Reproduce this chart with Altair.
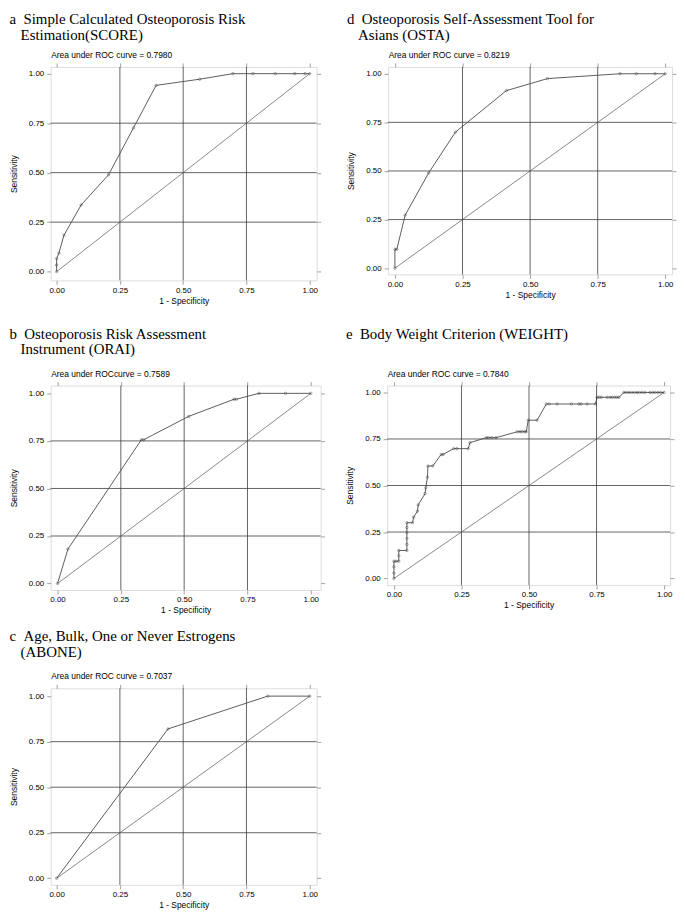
import altair as alt
import pandas as pd

# ---------------- data ----------------
TICKS = [0, 0.25, 0.5, 0.75, 1.0]
GRID = [0.25, 0.5, 0.75]

# a SCORE
a_x = [0, 0, 0, 0.009, 0.029, 0.097, 0.205, 0.304, 0.393, 0.565, 0.696, 0.775, 0.864, 0.941, 0.982, 1.0]
a_y = [0, 0.033, 0.066, 0.094, 0.184, 0.337, 0.489, 0.727, 0.941, 0.972, 1, 1, 1, 1, 1, 1]
# d OSTA
d_x = [0, 0, 0.007, 0.038, 0.125, 0.224, 0.412, 0.564, 0.833, 0.893, 0.962, 1.0]
d_y = [0, 0.097, 0.097, 0.273, 0.49, 0.70, 0.913, 0.975, 1, 1, 1, 1]
# b ORAI
b_x = [0, 0.041, 0.331, 0.34, 0.518, 0.697, 0.706, 0.795, 0.90, 1.0]
b_y = [0, 0.181, 0.756, 0.756, 0.879, 0.969, 0.969, 1, 1, 1]
# c ABONE
c_x = [0, 0.44, 0.834, 1.0]
c_y = [0, 0.82, 1.0, 1.0]
# e WEIGHT
e_x = [0, 0, 0, 0, 0.008, 0.018, 0.018, 0.018, 0.048, 0.048, 0.048, 0.048, 0.048, 0.048,
       0.069, 0.073, 0.087, 0.09, 0.115, 0.118, 0.124, 0.126, 0.144, 0.175, 0.182, 0.221,
       0.233, 0.275, 0.281, 0.342, 0.35, 0.362, 0.378, 0.457, 0.467, 0.475, 0.485, 0.49,
       0.497, 0.53, 0.564, 0.575, 0.604, 0.657, 0.685, 0.693, 0.715, 0.746, 0.752, 0.76,
       0.768, 0.789, 0.80, 0.808, 0.817, 0.825, 0.833, 0.851, 0.86, 0.87, 0.88, 0.89,
       0.90, 0.909, 0.919, 0.929, 0.948, 0.958, 0.967, 0.977, 0.987, 1.0]
e_y = [0, 0.03, 0.063, 0.093, 0.093, 0.093, 0.123, 0.151, 0.151, 0.184, 0.216, 0.247, 0.274, 0.3,
       0.3, 0.33, 0.362, 0.396, 0.456, 0.488, 0.544, 0.605, 0.605, 0.667, 0.667, 0.698,
       0.698, 0.698, 0.73, 0.757, 0.757, 0.757, 0.757, 0.789, 0.789, 0.789, 0.789, 0.789,
       0.851, 0.851, 0.938, 0.938, 0.938, 0.938, 0.938, 0.938, 0.938, 0.938, 0.974, 0.974,
       0.974, 0.974, 0.974, 0.974, 0.974, 0.974, 0.974, 1, 1, 1, 1, 1,
       1, 1, 1, 1, 1, 1, 1, 1, 1, 1]

SANS = "Liberation Sans"
SERIF = "Liberation Serif"
NB = "\u00a0"
ZW = "\u200b"


def make_panel(xs, ys, auc, title_lines, w, h, xdom, ydom, offset=12):
    df = pd.DataFrame({"x": xs, "y": ys, "i": list(range(len(xs)))})
    xsc = alt.Scale(domain=xdom, nice=False, zero=False)
    ysc = alt.Scale(domain=ydom, nice=False, zero=False)
    common = dict(values=TICKS, domain=False, grid=False, tickSize=4, tickColor="#8a8a8a",
                  tickWidth=0.8, labelFont=SANS, labelFontSize=8, labelColor="black",
                  titleFont=SANS, titleFontSize=8.5, titleFontWeight="normal", titleColor="black")
    bottom = alt.Axis(orient="bottom", format=".2f", labelPadding=2, title="1 - Specificity",
                      titlePadding=2, **common)
    left = alt.Axis(orient="left", format=".2f", labelPadding=3, title="Sensitivity",
                    titlePadding=10, **common)
    top = alt.Axis(orient="top", labels=False, title=auc, titleAnchor="start", titleAlign="left",
                   titlePadding=3, **common)
    right = alt.Axis(orient="right", labels=False, title=None, **common)

    gdf = pd.DataFrame({"g": GRID})
    gv = alt.Chart(gdf).mark_rule(color="#3c3c3c", strokeWidth=0.8).encode(
        x=alt.X("g:Q", scale=xsc, axis=top))
    gh = alt.Chart(gdf).mark_rule(color="#3c3c3c", strokeWidth=0.8).encode(
        y=alt.Y("g:Q", scale=ysc, axis=right))
    diag = alt.Chart(pd.DataFrame({"x": [0, 1], "y": [0, 1]})).mark_line(
        color="#555555", strokeWidth=0.7).encode(
        x=alt.X("x:Q", scale=xsc, axis=None), y=alt.Y("y:Q", scale=ysc, axis=None))
    curve = alt.Chart(df).mark_line(color="#4a4a4a", strokeWidth=0.9).encode(
        x=alt.X("x:Q", scale=xsc, axis=bottom), y=alt.Y("y:Q", scale=ysc, axis=left),
        order="i:Q")
    pts = alt.Chart(df).mark_point(shape="circle", size=6, filled=False, color="#333333",
                                   strokeWidth=0.6).encode(
        x=alt.X("x:Q", scale=xsc, axis=None), y=alt.Y("y:Q", scale=ysc, axis=None))
    return alt.layer(gv, gh, diag, curve, pts).resolve_axis(
        x="independent", y="independent").properties(
        width=w, height=h,
        title=alt.TitleParams(text=title_lines, anchor="start", frame="bounds", font=SERIF,
                              fontSize=15, fontWeight="normal", color="black",
                              lineHeight=16, offset=offset))


pa = make_panel(a_x, a_y, "Area under ROC curve = 0.7980",
                ["a" + NB + NB + "Simple Calculated Osteoporosis Risk",
                 ZW + NB * 3 + "Estimation(SCORE)"],
                268, 215, [-0.0235, 1.0275], [-0.044, 1.034], offset=8)
pd_ = make_panel(d_x, d_y, "Area under ROC curve = 0.8219",
                 ["d" + NB + NB + "Osteoporosis Self-Assessment Tool for",
                  ZW + NB * 3 + "Asians (OSTA)"],
                 286, 209, [-0.025, 1.025], [-0.032, 1.035], offset=8)
pb = make_panel(b_x, b_y, "Area under ROCcurve = 0.7589",
                ["b" + NB + NB + "Osteoporosis Risk Assessment",
                 ZW + NB * 3 + "Instrument (ORAI)"],
                272, 206, [-0.027, 1.039], [-0.034, 1.041])
pe = make_panel(e_x, e_y, "Area under ROC curve = 0.7840",
                ["e" + NB + NB + "Body Weight Criterion (WEIGHT)"],
                285, 201, [-0.025, 1.022], [-0.035, 1.037], offset=28)
pc = make_panel(c_x, c_y, "Area under ROC curve = 0.7037",
                ["c" + NB + NB + "Age, Bulk, One or Never Estrogens",
                 ZW + NB * 3 + "(ABONE)"],
                268, 198, [-0.0235, 1.0275], [-0.036, 1.043])

row1 = alt.hconcat(pa, pd_, spacing=24)
row2 = alt.hconcat(pb, pe, spacing=19)
top2 = alt.vconcat(row1, row2, spacing=21)
chart = alt.vconcat(top2, pc, spacing=14).properties(
    padding={"left": 0, "top": 0, "right": 0, "bottom": 0}
).configure_view(stroke="#9a9a9a", strokeWidth=1).configure(background="white")

chart.save("out.html", embed_options={"renderer": "svg", "actions": False})
